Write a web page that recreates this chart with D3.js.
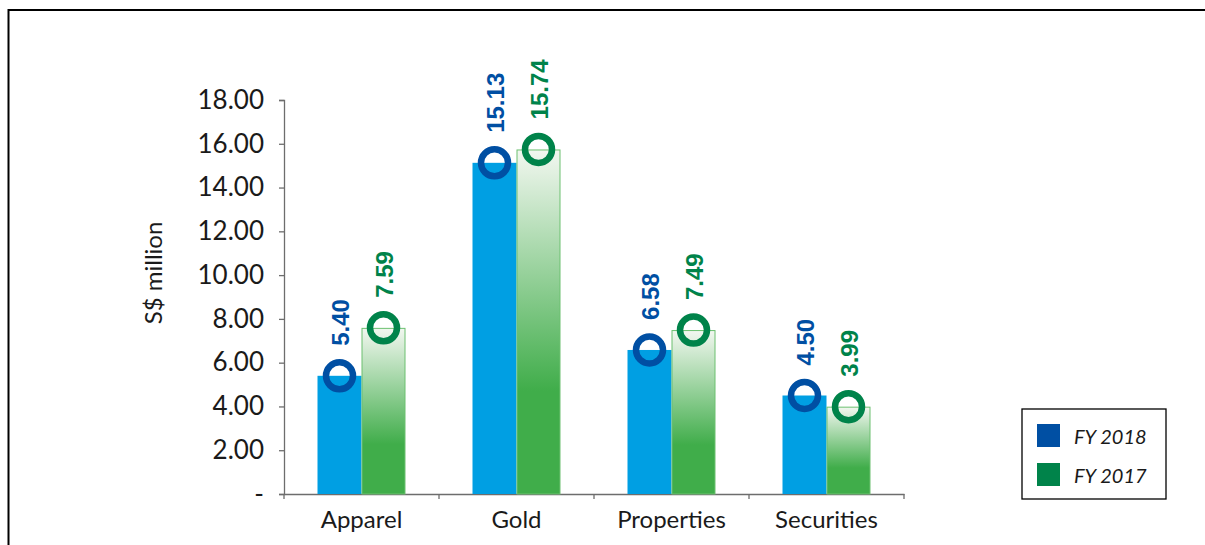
<!DOCTYPE html>
<html>
<head>
<meta charset="utf-8">
<script src="https://cdn.jsdelivr.net/npm/d3@7"></script>
<style>
html,body{margin:0;padding:0;background:#fff;}
svg{display:block;}
</style>
</head>
<body>
<svg id="chart" width="1205" height="545"></svg>
<script>
const categories = ["Apparel", "Gold", "Properties", "Securities"];
const fy2018 = [5.40, 15.13, 6.58, 4.50];
const fy2017 = [7.59, 15.74, 7.49, 3.99];
const seriesNames = ["FY 2018", "FY 2017"];
const yTicks = [0, 2, 4, 6, 8, 10, 12, 14, 16, 18];

const svg = d3.select("#chart");
const W = 1205, H = 545;

// outer frame
svg.append("rect").attr("x", 8.5).attr("y", 10).attr("width", W + 20).attr("height", H + 20)
  .attr("fill", "none").attr("stroke", "#000").attr("stroke-width", 2);

const defs = svg.append("defs");
const grad = defs.append("linearGradient").attr("id", "gGreen")
  .attr("x1", 0).attr("y1", 0).attr("x2", 0).attr("y2", 1);
grad.append("stop").attr("offset", "0%").attr("stop-color", "#f2f7f0");
grad.append("stop").attr("offset", "70%").attr("stop-color", "#40ad4a");
grad.append("stop").attr("offset", "100%").attr("stop-color", "#40ad4a");

const x0 = 284, x1 = 904, yTop = 100, yBot = 494;
const x = d3.scaleBand().domain(categories).range([x0, x1]).paddingInner(0).paddingOuter(0);
const y = d3.scaleLinear().domain([0, 18]).range([yBot, yTop]);
const barW = 44;

const tickFont = "Lato, 'Open Sans', sans-serif";

// y axis
const yAxis = d3.axisLeft(y).tickValues(yTicks).tickSize(5).tickPadding(15)
  .tickFormat(d => d === 0 ? "-" : d3.format(".2f")(d));
const gy = svg.append("g").attr("transform", `translate(${x0},0)`).call(yAxis);
gy.select(".domain").attr("stroke", "#6d6d6d").attr("stroke-width", 1.3);
gy.selectAll(".tick line").attr("stroke", "#6d6d6d").attr("stroke-width", 1.3);
gy.selectAll(".tick text").attr("font-family", tickFont).attr("font-size", 26).attr("fill", "#1a1a1a");

// x axis
const xAxis = d3.axisBottom(x).tickSize(0).tickPadding(17);
const gx = svg.append("g").attr("transform", `translate(0,${yBot})`).call(xAxis);
gx.select(".domain").attr("stroke", "#6d6d6d").attr("stroke-width", 1.3);
gx.selectAll(".tick text").attr("font-family", tickFont).attr("font-size", 24).attr("fill", "#1a1a1a").attr("dy", "0.71em");
// category boundary ticks
const bounds = categories.map(c => x(c)).concat([x(categories[categories.length - 1]) + x.bandwidth()]);
gx.selectAll(".bt").data(bounds).enter().append("line")
  .attr("x1", d => d).attr("x2", d => d).attr("y1", 0).attr("y2", 5)
  .attr("stroke", "#6d6d6d").attr("stroke-width", 1.3);

// y title
svg.append("text").attr("transform", `translate(162,${273}) rotate(-90)`)
  .attr("text-anchor", "middle").attr("font-family", tickFont).attr("font-size", 24)
  .attr("fill", "#1a1a1a").text("S$ million");

const blueBar = "#009fe3", blueDot = "#004fa3", greenDot = "#00834a";
const cx = c => x(c) + x.bandwidth() / 2;

// bars
svg.selectAll(".b18").data(categories).enter().append("rect")
  .attr("x", c => cx(c) - barW).attr("width", barW)
  .attr("y", (c, i) => y(fy2018[i])).attr("height", (c, i) => yBot - y(fy2018[i]))
  .attr("fill", blueBar);
svg.selectAll(".b17").data(categories).enter().append("rect")
  .attr("x", c => cx(c) + 0.5).attr("width", barW - 1)
  .attr("y", (c, i) => y(fy2017[i]) + 0.5).attr("height", (c, i) => yBot - y(fy2017[i]) - 0.5)
  .attr("fill", "url(#gGreen)").attr("stroke", "#6cc070").attr("stroke-width", 1);

// markers
function markers(vals, off, color) {
  svg.selectAll(null).data(categories).enter().append("circle")
    .attr("cx", c => cx(c) + off).attr("cy", (c, i) => y(vals[i]))
    .attr("r", 13.5).attr("fill", "none").attr("stroke", color).attr("stroke-width", 6.5);
  svg.selectAll(null).data(categories).enter().append("text")
    .attr("transform", (c, i) => `translate(${cx(c) + off + 9},${y(vals[i]) - 30}) rotate(-90)`)
    .attr("font-family", "'Liberation Sans', Arial, sans-serif").attr("font-weight", "bold")
    .attr("font-size", 24).attr("fill", color).text((c, i) => d3.format(".2f")(vals[i]));
}
markers(fy2018, -barW / 2, blueDot);
markers(fy2017, barW / 2, greenDot);

// legend
svg.append("rect").attr("x", 1022).attr("y", 409).attr("width", 144).attr("height", 90)
  .attr("fill", "none").attr("stroke", "#000").attr("stroke-width", 1.3);
const legColors = [blueDot, greenDot];
seriesNames.forEach((n, i) => {
  svg.append("rect").attr("x", 1037).attr("y", 424 + i * 39).attr("width", 23).attr("height", 23)
    .attr("fill", legColors[i]);
  svg.append("text").attr("x", 1074).attr("y", 444 + i * 39)
    .attr("font-family", tickFont).attr("font-style", "italic").attr("font-size", 20)
    .attr("fill", "#1a1a1a").text(n);
});
</script>
</body>
</html>
